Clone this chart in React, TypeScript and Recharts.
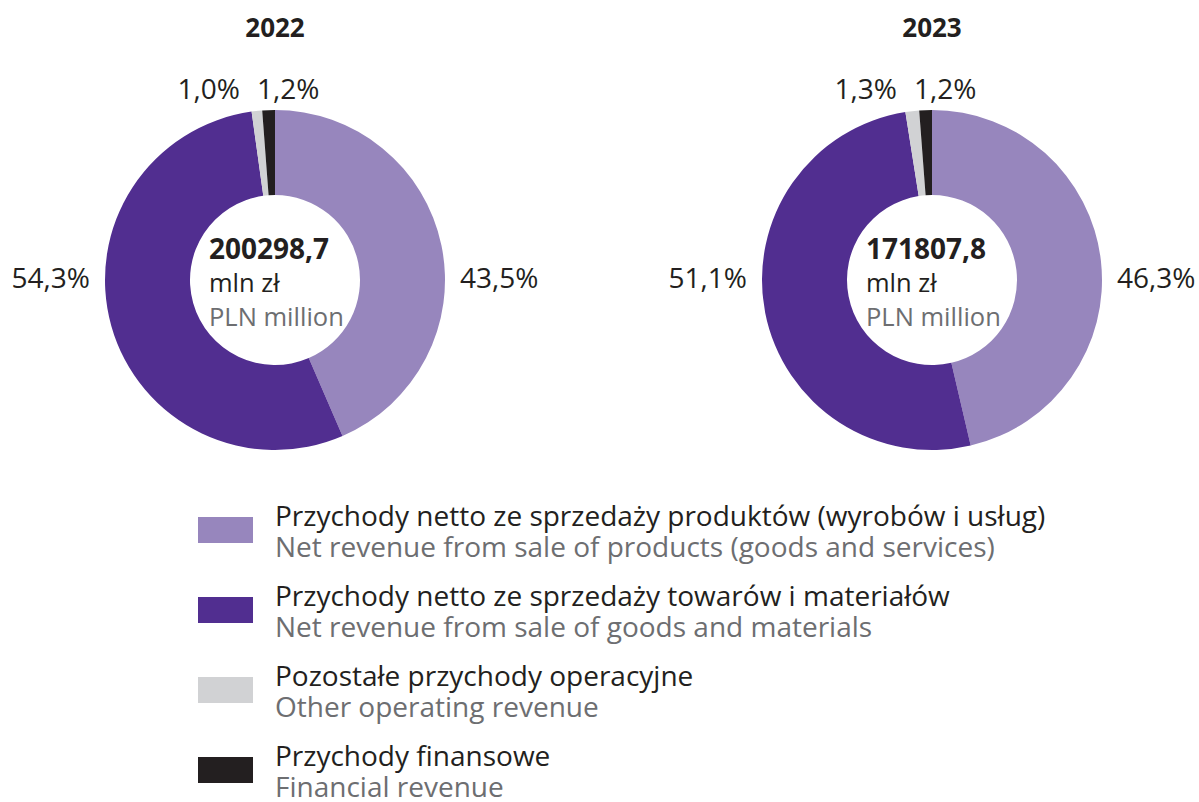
import { Pie, PieChart, Cell } from "recharts";

const FONT = "'Open Sans', 'Liberation Sans', sans-serif";

const CATEGORIES_PL = [
  "Przychody netto ze sprzedaży produktów (wyrobów i usług)",
  "Przychody netto ze sprzedaży towarów i materiałów",
  "Pozostałe przychody operacyjne",
  "Przychody finansowe",
];
const CATEGORIES_EN = [
  "Net revenue from sale of products (goods and services)",
  "Net revenue from sale of goods and materials",
  "Other operating revenue",
  "Financial revenue",
];
const COLORS = ["#9786BD", "#512E90", "#D1D2D4", "#231F20"];

const YEARS = ["2022", "2023"];
const TOTALS = ["200298,7", "171807,8"];
const SHARES_2022 = [43.5, 54.3, 1.0, 1.2];
const SHARES_2023 = [46.3, 51.1, 1.3, 1.2];

const CX = [275, 932];
const CY = 280;
const R_OUT = 170;
const R_IN = 85;

const toData = (vals: number[]) => vals.map((v, i) => ({ name: CATEGORIES_PL[i], value: v }));

const fmt = (v: number) => v.toFixed(1).replace(".", ",") + "%";

// percentage labels: big slices at the sides, small ones above the top
function renderPct(props: any) {
  const { cx, cy, outerRadius, midAngle, index, value } = props;
  let x = cx;
  let y = cy;
  let anchor: "start" | "end" = "start";
  if (index === 0 || index === 1) {
    const side = Math.cos((midAngle * Math.PI) / 180) >= 0 ? 1 : -1;
    x = cx + side * (outerRadius + 15);
    y = cy + 8;
    anchor = side > 0 ? "start" : "end";
  } else {
    y = cy - outerRadius - 11;
    x = index === 2 ? cx - 35 : cx - 18;
    anchor = index === 2 ? "end" : "start";
  }
  return (
    <text x={x} y={y} textAnchor={anchor} fontSize={28} fill="#231F20" fontFamily={FONT}>
      {fmt(value)}
    </text>
  );
}

export default function App() {
  const pies = [SHARES_2022, SHARES_2023];
  return (
    <div style={{ position: "absolute", left: 0, top: 0, width: 1199, height: 802, background: "#fff", fontFamily: FONT }}>
      <PieChart width={1199} height={470} margin={{ top: 0, right: 0, bottom: 0, left: 0 }}>
        {pies.map((vals, k) => (
          <Pie
            key={YEARS[k]}
            data={toData(vals)}
            dataKey="value"
            nameKey="name"
            cx={CX[k]}
            cy={CY}
            innerRadius={R_IN}
            outerRadius={R_OUT}
            startAngle={90}
            endAngle={-270}
            stroke="none"
            label={renderPct}
            labelLine={false}
            isAnimationActive={false}
          >
            {vals.map((_, i) => (
              <Cell key={i} fill={COLORS[i]} />
            ))}
          </Pie>
        ))}
      </PieChart>
      <svg width={1199} height={470} style={{ position: "absolute", left: 0, top: 0, pointerEvents: "none" }}>
        {YEARS.map((y, k) => (
          <g key={y} fontFamily={FONT}>
            <text x={CX[k]} y={37} textAnchor="middle" fontSize={26} fontWeight={700} fill="#231F20">{y}</text>
            <text x={CX[k] - 66} y={CY - 21} fontSize={28} fontWeight={700} fill="#231F20">{TOTALS[k]}</text>
            <text x={CX[k] - 66} y={CY + 12} fontSize={25.5} fill="#231F20">mln zł</text>
            <text x={CX[k] - 66} y={CY + 46} fontSize={25.5} fill="#6D6E71">PLN million</text>
          </g>
        ))}
      </svg>
      {CATEGORIES_PL.map((c, i) => (
        <div key={c} style={{ position: "absolute", left: 198, top: 501 + i * 80 }}>
          <div style={{ position: "absolute", left: 0, top: 16, width: 55, height: 26, background: COLORS[i] }} />
          <div style={{ position: "absolute", left: 77, top: -1, lineHeight: "31px", fontSize: 28, whiteSpace: "nowrap" }}>
            <div style={{ color: "#231F20" }}>{c}</div>
            <div style={{ color: "#6D6E71" }}>{CATEGORIES_EN[i]}</div>
          </div>
        </div>
      ))}
    </div>
  );
}
